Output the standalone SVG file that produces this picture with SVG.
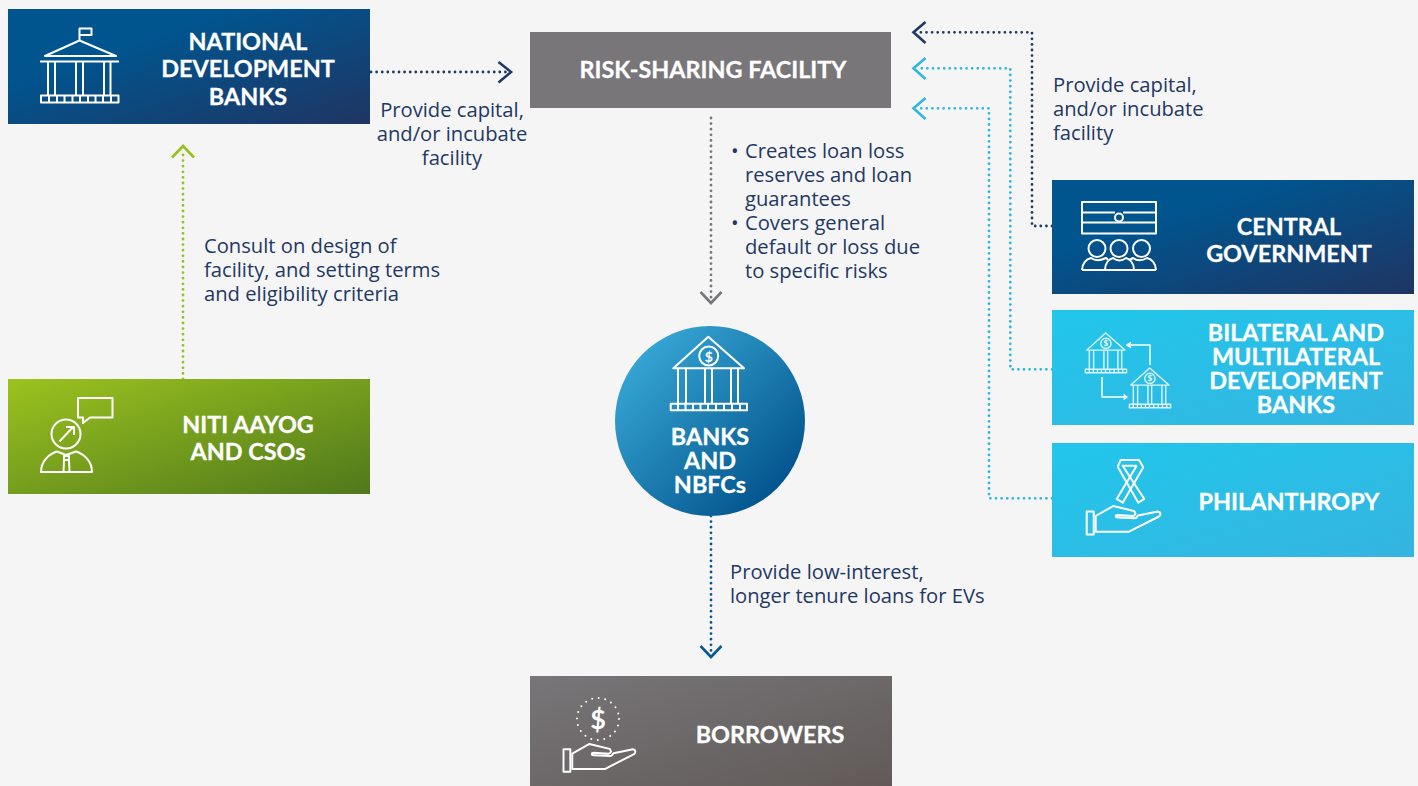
<svg xmlns="http://www.w3.org/2000/svg" xmlns:xlink="http://www.w3.org/1999/xlink" width="1418" height="786" viewBox="0 0 1418 786">
<style>
.h{font:700 23.4px Lato,"Open Sans",sans-serif;fill:#fff;stroke:#fff;stroke-width:.3;text-anchor:middle}
.b{font:400 20.2px "Open Sans",Lato,sans-serif;fill:#1f3864}
.m{text-anchor:middle}
.i{fill:none;stroke:#fff;stroke-width:2;stroke-linejoin:round}
.d{fill:none;stroke-width:2.8;stroke-linecap:round;stroke-dasharray:0 5.6}
.c{fill:none;stroke-width:2.6;stroke-linejoin:miter}
.s{font-family:Lato,sans-serif;font-weight:700;fill:#fff;text-anchor:middle}
</style>
<defs>
<linearGradient id="gN" x1="0" y1="0" x2="1" y2="1"><stop offset=".3" stop-color="#00558f"/><stop offset="1" stop-color="#1f3563"/></linearGradient>
<linearGradient id="gG" x1="0" y1="0" x2="1" y2="1"><stop offset="0" stop-color="#9bc31f"/><stop offset="1" stop-color="#4f781c"/></linearGradient>
<linearGradient id="gC" x1="0" y1="0" x2="1" y2="1"><stop offset=".1" stop-color="#23c5ea"/><stop offset="1" stop-color="#35b4e0"/></linearGradient>
<linearGradient id="gB" x1="0" y1="0" x2="1" y2="1"><stop offset=".1" stop-color="#38a9d6"/><stop offset=".9" stop-color="#00508a"/></linearGradient>
<linearGradient id="gW" x1="0" y1="0" x2="1" y2="1"><stop offset="0" stop-color="#787679"/><stop offset="1" stop-color="#615a58"/></linearGradient>
<g id="bank">
<path d="M673.3 368.3L708.3 336.7L744 368.3Z"/><circle cx="708.7" cy="356" r="9.5"/>
<path d="M678 368.3V403.7M686 368.3V403.7M705 368.3V403.7M712 368.3V403.7M731 368.3V403.7M738 368.3V403.7"/>
<rect x="670.7" y="403.7" width="76.3" height="6.6"/>
<path d="M678 403.7v6.6M685.500 403.700v6.6M693 403.7v6.6M700.500 403.700v6.600M708 403.7v6.6M716 403.7v6.6M724 403.7v6.6M732 403.7v6.6M740 403.7v6.6"/>
</g>
<g id="hand">
<rect x="1086.700" y="511.500" width="7" height="23"/>
<path d="M1095.700 516L1113.300 506L1134 511C1136 513 1136 515 1133 516L1118 515C1115 515 1115 517.500 1118 517.500L1135 518.300C1137 518.300 1137 516.500 1138 515.500L1158 511.500C1161 512 1161 515 1159 516.500L1129 531.700H1095.700Z"/>
</g>
</defs>
<rect width="1418" height="786" fill="#f5f5f5"/>
<g id="connectors">
<path class="d" stroke="#1f3864" d="M371 72H506"/>
<path class="c" stroke="#1f3864" d="M498.500 62L511 72L498.500 82.500"/>
<path class="d" stroke="#97c11f" d="M183 379V150"/>
<path class="c" stroke="#97c11f" d="M172 157.500L183 146L194 157.500"/>
<path class="d" stroke="#1f3864" d="M1052 226H1032V32.300H918"/>
<path class="c" stroke="#1f3864" d="M925.500 22L913.500 32.300L925.500 43"/>
<path class="d" stroke="#2fb6e3" d="M1052 369.300H1010.300V68.300H918"/>
<path class="c" stroke="#2fb6e3" d="M925.500 58L913.500 68.300L925.500 79"/>
<path class="d" stroke="#2fb6e3" d="M1052 498.300H989V108.300H918"/>
<path class="c" stroke="#2fb6e3" d="M925.500 98L913.500 108.300L925.500 119"/>
<path class="d" stroke="#77757a" d="M711 118V300"/>
<path class="c" stroke="#77757a" d="M700.500 292L711 303L721.500 292"/>
<path class="d" stroke="#075a90" d="M711 516V654"/>
<path class="c" stroke="#075a90" d="M700.500 646L711 657L721.500 646"/>
</g>
<g id="national-development-banks">
<rect x="8" y="9" width="362" height="115" fill="url(#gN)"/>
<g class="i"><path d="M79.500 40V28.500H91.500V35H79.500"/><path d="M45 56L79.500 40.500L116 56ZM40 61.500H119M48 61.500V95M55 61.500V95M76 61.500V95M83 61.500V95M104 61.500V95M110.500 61.500V95"/><rect x="41" y="95.500" width="77.500" height="7"/><path d="M49 95.500v7M57 95.500v7M64.500 95.500v7M72.500 95.500v7M80 95.500v7M88 95.500v7M95.500 95.500v7M103 95.500v7M111 95.500v7"/></g>
<text class="h" x="248" y="50">NATIONAL</text><text class="h" x="248" y="77">DEVELOPMENT</text><text class="h" x="248" y="105">BANKS</text>
</g>
<g id="risk-sharing-facility">
<rect x="530" y="32" width="361" height="76" fill="#787679"/>
<text class="h" x="713" y="78">RISK-SHARING FACILITY</text>
</g>
<g id="niti-aayog">
<rect x="8" y="379" width="362" height="115" fill="url(#gG)"/>
<g class="i"><path d="M78 398H112.500V417.500H90L83 423V417.500H78Z"/><circle cx="66" cy="434" r="14.500"/><path d="M59.500 441.500L73 427M66 427H74V435"/><path d="M41 472C41 461 49 454 57 451.500L66 455L76 451.500C84 454 92 461 92 472Z"/><path d="M64 456h5v4h-5zM64 460L63.500 472M69 460L69.500 472"/></g>
<text class="h" x="248" y="433">NITI AAYOG</text><text class="h" x="248" y="460">AND CSOs</text>
</g>
<g id="central-government">
<rect x="1052" y="180" width="362" height="114" fill="url(#gN)"/>
<g class="i"><rect x="1082" y="202" width="74" height="31.500"/><path d="M1082 212.500H1115M1123 212.500H1156M1082 222.500H1156"/><circle cx="1119" cy="217.500" r="4"/><circle cx="1097" cy="248.500" r="8.500"/><circle cx="1119" cy="248.500" r="8.500"/><circle cx="1141.500" cy="248.500" r="8.500"/><path d="M1082 270C1082 264 1086 259 1091 258C1095 261 1100 261 1106 258C1108 259 1107 259 1107.500 260M1105 270C1105 263 1109 259 1113 258C1117 261 1122 261 1126 258C1130 259 1134 263 1134 270M1130 260C1131 259 1131 259 1133 258C1137 261 1142 261 1147 258C1152 259 1156 264 1156 270M1082 270H1156"/></g>
<text class="h" x="1289" y="235">CENTRAL</text><text class="h" x="1289" y="262">GOVERNMENT</text>
</g>
<g id="bilateral-multilateral">
<rect x="1052" y="310" width="362" height="115" fill="url(#gC)"/>
<g class="i" opacity=".85"><use xlink:href="#bank" href="#bank" transform="translate(723.200 151.200) scale(.54)" style="stroke-width:2.600"/><use xlink:href="#bank" href="#bank" transform="translate(767.200 186.200) scale(.54)" style="stroke-width:2.600"/></g>
<text class="s" x="1105.900" y="346.300" font-size="8">$</text><text class="s" x="1149.900" y="381.300" font-size="8">$</text>
<g class="i" style="stroke-width:1.500"><path d="M1150 365V345H1128M1131 342.500L1127 345L1131 347.500M1102 377V397H1126M1123.500 394.500L1127 397L1123.500 399.500"/></g>
<text class="h" x="1296" y="341">BILATERAL AND</text><text class="h" x="1296" y="365">MULTILATERAL</text><text class="h" x="1296" y="389">DEVELOPMENT</text><text class="h" x="1296" y="413">BANKS</text>
</g>
<g id="philanthropy">
<rect x="1052" y="443" width="362" height="114" fill="url(#gC)"/>
<g class="i"><use xlink:href="#hand" href="#hand"/><path d="M1143.300 467.300L1122.700 502.700L1116.700 499L1136.700 465.700"/><path d="M1117.700 466.700L1138.300 502.700L1144.300 499L1122.700 465.700H1136.700"/><path d="M1117.700 466.700L1120.700 460H1139L1143.300 467.300"/></g>
<text class="h" x="1289" y="510">PHILANTHROPY</text>
</g>
<g id="banks-nbfcs">
<circle cx="710" cy="421" r="95" fill="url(#gB)"/>
<g class="i"><use xlink:href="#bank" href="#bank"/></g>
<text class="s" x="708.700" y="361.500" font-size="14">$</text>
<text class="h" x="710" y="445">BANKS</text><text class="h" x="710" y="469">AND</text><text class="h" x="710" y="493">NBFCs</text>
</g>
<g id="borrowers">
<rect x="530" y="676" width="362" height="110" fill="url(#gW)"/>
<g class="i"><use xlink:href="#hand" href="#hand" transform="translate(-496.030 250.600) scale(.975)"/><circle cx="598" cy="719" r="21" stroke-linecap="round" stroke-dasharray="0 6.600"/></g>
<text class="s" x="598" y="729" font-size="27">$</text>
<text class="h" x="770" y="743">BORROWERS</text>
</g>
<g id="labels">
<text class="b m" x="452" y="117">Provide capital,</text><text class="b m" x="452" y="141">and/or incubate</text><text class="b m" x="452" y="165">facility</text>
<text class="b" x="204" y="253">Consult on design of</text><text class="b" x="204" y="277">facility, and setting terms</text><text class="b" x="204" y="301">and eligibility criteria</text>
<text class="b" x="731" y="158">•</text><text class="b" x="745" y="158">Creates loan loss</text><text class="b" x="745" y="182">reserves and loan</text><text class="b" x="745" y="206">guarantees</text>
<text class="b" x="731" y="230">•</text><text class="b" x="745" y="230">Covers general</text><text class="b" x="745" y="254">default or loss due</text><text class="b" x="745" y="278">to specific risks</text>
<text class="b" x="1053" y="92">Provide capital,</text><text class="b" x="1053" y="116">and/or incubate</text><text class="b" x="1053" y="140">facility</text>
<text class="b" x="730" y="579">Provide low-interest,</text><text class="b" x="730" y="603">longer tenure loans for EVs</text>
</g>
</svg>
